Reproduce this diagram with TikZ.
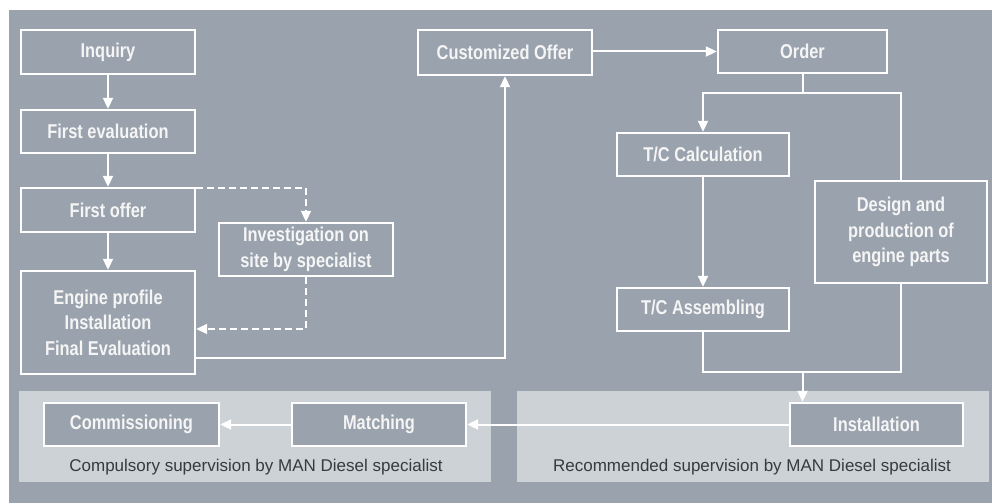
\documentclass[tikz,border=0pt]{standalone}
\usepackage{fontspec}
\setmainfont{Liberation Sans}
\newfontfamily\boxfont[FakeStretch=0.82]{Liberation Sans}
\usetikzlibrary{arrows.meta,calc}
\definecolor{bggray}{RGB}{153,162,173}
\definecolor{panelgray}{RGB}{205,210,215}
\definecolor{labeltext}{RGB}{55,58,62}
\definecolor{boxtext}{RGB}{245,245,245}
\tikzset{
  flowbox/.style={draw=white, line width=2.4pt, fill=bggray, inner sep=0pt,
    text=boxtext, align=center, font=\boxfont\bfseries\fontsize{20}{25.5}\selectfont},
  conn/.style={draw=white, line width=2pt},
  tip/.style={-{Triangle[length=11pt,width=10pt]}},
  arr/.style={conn, tip},
  dconn/.style={conn, dashed, dash pattern=on 7pt off 4pt},
  panel/.style={fill=panelgray, draw=none},
  plabel/.style={text=labeltext, font=\fontsize{17}{20}\selectfont, inner sep=0pt}
}
\begin{document}
\begin{tikzpicture}[x=1pt,y=-1pt]
\useasboundingbox (0,0) rectangle (992,503);
\fill[white] (0,0) rectangle (992,503);
\fill[bggray] (9,10) rectangle (992,503);
% panels
\fill[panel] (19,391) rectangle (491,482);
\fill[panel] (517,391) rectangle (989,482);
\node[plabel] (lblL) at (256,467) {Compulsory supervision by MAN Diesel specialist};
\node[plabel] (lblR) at (752,467) {Recommended supervision by MAN Diesel specialist};
% boxes
\node[flowbox, minimum width=174pt, minimum height=44pt] (inq) at (108,52) {Inquiry};
\node[flowbox, minimum width=174pt, minimum height=43pt] (feval) at (108,131.5) {First evaluation};
\node[flowbox, minimum width=174pt, minimum height=44pt] (foffer) at (108,210) {First offer};
\node[flowbox, minimum width=174pt, minimum height=53pt] (invest) at (306,249.5) {Investigation on\\site by specialist};
\node[flowbox, minimum width=174pt, minimum height=103pt] (engine) at (108,322.5) {Engine profile\\Installation\\Final Evaluation};
\node[flowbox, minimum width=174pt, minimum height=45pt] (cust) at (505,52.5) {Customized Offer};
\node[flowbox, minimum width=169pt, minimum height=43pt] (order) at (802.5,51.5) {Order};
\node[flowbox, minimum width=172pt, minimum height=43pt] (tccalc) at (703,154.5) {T/C Calculation};
\node[flowbox, minimum width=172pt, minimum height=102pt] (design) at (901,232) {Design and\\production of\\engine parts};
\node[flowbox, minimum width=172pt, minimum height=43pt] (tcasm) at (703,309.5) {T/C Assembling};
\node[flowbox, minimum width=173pt, minimum height=43pt] (install) at (876.5,424.5) {Installation};
\node[flowbox, minimum width=174pt, minimum height=43pt] (match) at (379,424.5) {Matching};
\node[flowbox, minimum width=175pt, minimum height=43pt] (comm) at (131.5,424.5) {Commissioning};
% coordinates
\coordinate (split) at (802.5,93);
\coordinate (join) at (802.5,372);
% connectors
\draw[arr] (inq.south) -- (feval.north);
\draw[arr] (feval.south) -- (foffer.north);
\draw[arr] (foffer.south) -- (engine.north);
\draw[dconn, tip] ([yshift=-1pt]foffer.north east) -| (invest.north);
\draw[dconn, tip] (invest.south) |- ([yshift=-6.5pt]engine.east);
\draw[arr] ([yshift=-35.5pt]engine.east) -| (cust.south);
\draw[arr] (cust.east |- order.west) -- (order.west);
\draw[conn] (order.south) -- (split);
\draw[arr] (split) -| (tccalc.north);
\draw[conn] (split) -| (design.north);
\draw[arr] (tccalc.south) -- (tcasm.north);
\draw[conn] (tcasm.south) |- (join);
\draw[conn] (design.south) |- (join);
\draw[arr] (join) -- (join |- install.north);
\draw[arr] (install.west) -- (match.east);
\draw[arr] (match.west) -- (comm.east);
\end{tikzpicture}
\end{document}
